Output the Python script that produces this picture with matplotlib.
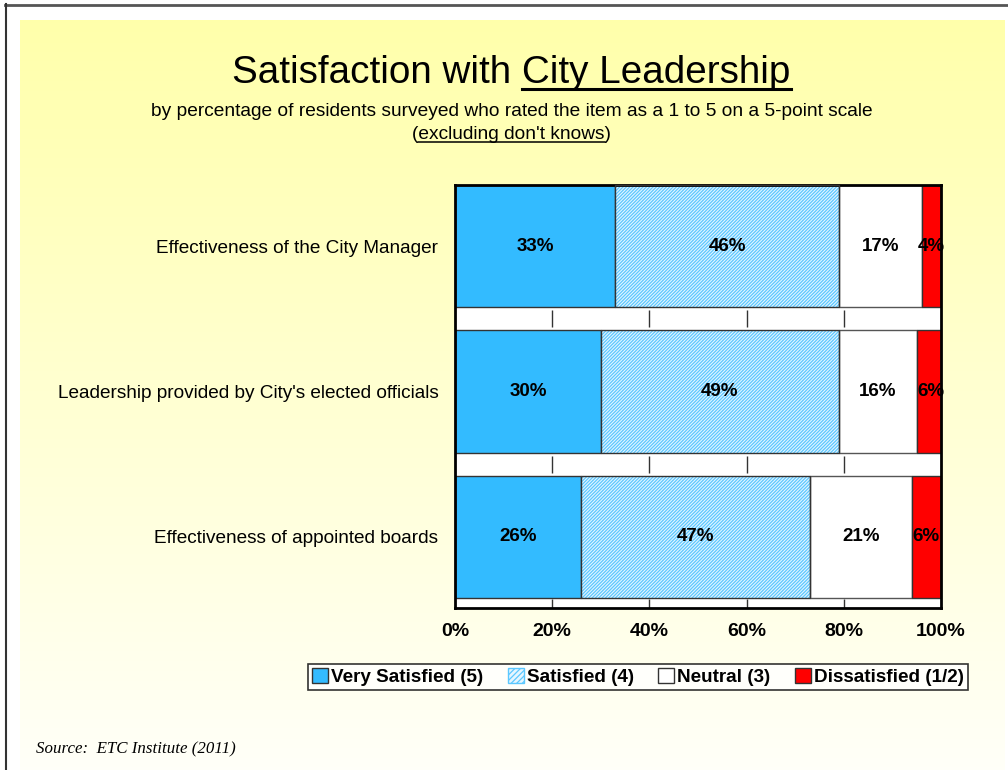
import numpy as np
import matplotlib
matplotlib.use("Agg")
import matplotlib.pyplot as plt
from matplotlib.patches import Patch
from matplotlib.lines import Line2D

# --- data ---
items = [
    "Effectiveness of the City Manager",
    "Leadership provided by City's elected officials",
    "Effectiveness of appointed boards",
]
series_names = ["Very Satisfied (5)", "Satisfied (4)", "Neutral (3)", "Dissatisfied (1/2)"]
very_satisfied = [33, 30, 26]
satisfied = [46, 49, 47]
neutral = [17, 16, 21]
dissatisfied = [4, 6, 6]
x_ticks = [0, 20, 40, 60, 80, 100]

W, H = 1008, 770
FONT = "Liberation Sans"
plt.rcParams["font.family"] = [FONT, "DejaVu Sans"]
plt.rcParams["hatch.linewidth"] = 0.9

fig = plt.figure(figsize=(W / 100, H / 100), dpi=100)


def fx(px):
    return px / W


def fy(py):
    return 1 - py / H


# background: frame + yellow gradient
bg = fig.add_axes([0, 0, 1, 1], zorder=-10)
bg.set_xlim(0, W)
bg.set_ylim(H, 0)
bg.axis("off")
grad = np.linspace(0, 1, 256)[:, None]
top = np.array([1.0, 1.0, 0.67])
bot = np.array([1.0, 1.0, 0.975])
img = top[None, None, :] * (1 - grad[..., None]) + bot[None, None, :] * grad[..., None]
bg.imshow(img, extent=[20, 1005, 775, 20], aspect="auto", zorder=0)
bg.plot([5, W], [4.5, 4.5], color="#555555", lw=2, zorder=1)
bg.plot([5.5, 5.5], [4, H], color="#333333", lw=1.5, zorder=1)

# --- main chart ---
ax = fig.add_axes([fx(455), fy(608), fx(941) - fx(455), fy(185) - fy(608)])
ax.set_facecolor("white")
ypos = np.arange(len(items))
bar_h = 0.842
edge = "#333333"

left = np.zeros(len(items))
ax.barh(ypos, very_satisfied, left=left, height=bar_h, color="#33bbff",
        edgecolor=edge, linewidth=1.0, zorder=2)
left = left + np.array(very_satisfied)
ax.barh(ypos, satisfied, left=left, height=bar_h, color="#e6f6ff",
        edgecolor="#5cc8ff", linewidth=0, hatch="//////////", zorder=2)
ax.barh(ypos, satisfied, left=left, height=bar_h, color="none",
        edgecolor=edge, linewidth=1.0, zorder=3)
left = left + np.array(satisfied)
ax.barh(ypos, neutral, left=left, height=bar_h, color="white",
        edgecolor="#555555", linewidth=1.0, zorder=2)
left = left + np.array(neutral)
ax.barh(ypos, dissatisfied, left=left, height=bar_h, color="#ff0000",
        edgecolor=edge, linewidth=1.0, zorder=2)

# value labels
starts = np.zeros(len(items))
for vals in [very_satisfied, satisfied, neutral, dissatisfied]:
    for i, v in enumerate(vals):
        cx = starts[i] + v / 2
        ax.text(min(cx, 100 - 1.8), ypos[i], f"{v}%", ha="center", va="center",
                fontsize=13.5, fontweight="bold", zorder=5, clip_on=False)
    starts = starts + np.array(vals)

# short tick marks in the gaps
gap_px = 10 / 146
for i in range(len(items)):
    g0 = ypos[i] + bar_h / 2
    if i + 1 < len(items):
        g1 = ypos[i + 1] - bar_h / 2
        ax.vlines(x_ticks[1:-1], g0 + 0.02, g1 - 0.02, color="#333333", lw=1.0, zorder=1)
    else:
        ax.vlines(x_ticks[1:-1], g0 + 0.01, g0 + gap_px, color="#333333", lw=1.0, zorder=1)

ax.set_xlim(0, 100)
ax.set_ylim(ypos[-1] + bar_h / 2 + gap_px, -bar_h / 2)
ax.set_xticks(x_ticks)
ax.set_xticklabels([f"{t}%" for t in x_ticks], fontsize=14, fontweight="bold")
ax.tick_params(axis="x", length=0, pad=11)
ax.set_yticks(ypos)
ax.set_yticklabels(items, fontsize=13.7)
ax.tick_params(axis="y", length=0, pad=12)
for s in ax.spines.values():
    s.set_linewidth(2)
    s.set_color("black")

# --- titles ---
renderer = fig.canvas.get_renderer()


def underlined(x, y, pre, under, post, size, lw):
    full = fig.text(x, y, pre + under + post, ha="center", va="baseline", fontsize=size)
    bb = full.get_window_extent(renderer)
    w_pre = fig.text(0, 0, pre, fontsize=size, alpha=0).get_window_extent(renderer).width
    w_und = fig.text(0, 0, pre + under, fontsize=size, alpha=0).get_window_extent(renderer).width
    x0 = bb.x0 + w_pre
    x1 = bb.x0 + w_und
    yl = y * H - size * 0.2
    fig.add_artist(Line2D([x0 / W, x1 / W], [yl / H, yl / H], color="black", lw=lw))


underlined(0.5075, fy(83), "Satisfaction with ", "City Leadership", "", 27.8, 2.2)
fig.text(0.5075, fy(116), "by percentage of residents surveyed who rated the item as a 1 to 5 on a 5-point scale",
         ha="center", va="baseline", fontsize=13.8)
underlined(0.5075, fy(139), "(", "excluding don't knows", ")", 13.8, 1.1)

# --- legend ---
handles = [
    Patch(facecolor="#33bbff", edgecolor=edge),
    Patch(facecolor="#e6f6ff", edgecolor="#5cc8ff", hatch="//////"),
    Patch(facecolor="white", edgecolor=edge),
    Patch(facecolor="#ff0000", edgecolor=edge),
]
leg = fig.legend(handles, series_names, loc="center", bbox_to_anchor=(fx(638), fy(677)),
                 ncol=4, frameon=True, fancybox=False, edgecolor="black",
                 prop={"family": FONT, "weight": "bold", "size": 13.6},
                 handlelength=0.85, handleheight=0.85, handletextpad=0.15,
                 columnspacing=1.3, borderpad=0.2, borderaxespad=0)
leg.get_frame().set_linewidth(1.2)

fig.text(fx(36), fy(753), "Source:  ETC Institute (2011)", fontsize=12.2, style="italic",
         family="Liberation Serif", va="baseline")

fig.savefig("out.png", dpi=100)
